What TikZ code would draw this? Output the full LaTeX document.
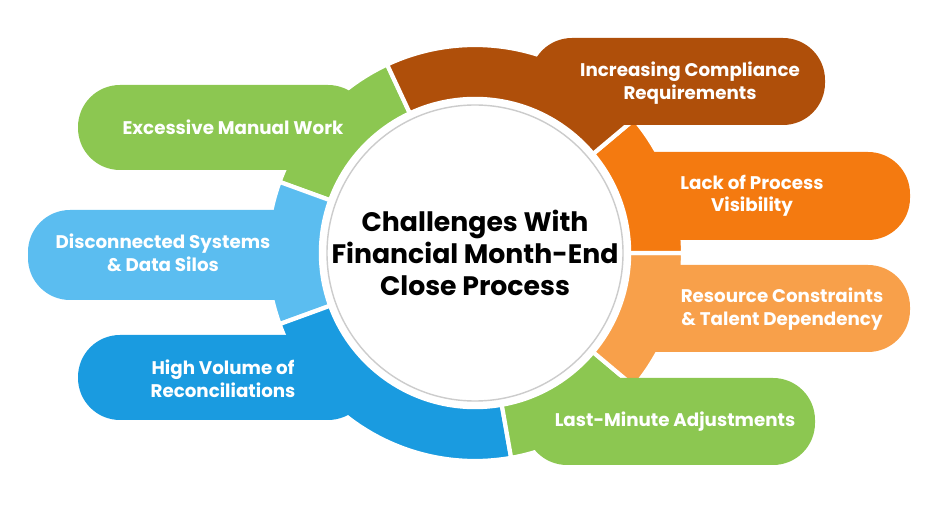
\documentclass[tikz,border=0pt]{standalone}
\usepackage{fontspec}
\setmainfont{Poppins}
\usepackage{tikz}
\usetikzlibrary{calc}
\definecolor{grn}{HTML}{8CC751}
\definecolor{lblu}{HTML}{5BBDF0}
\definecolor{blu}{HTML}{1A9BE0}
\definecolor{brn}{HTML}{AF4F0A}
\definecolor{org}{HTML}{F47A10}
\definecolor{lorg}{HTML}{F8A04A}
\begin{document}
\begin{tikzpicture}[x=0.025cm,y=0.025cm,
  pill/.style={rounded corners=1.05cm},
  seg/.style={draw=white,line width=3pt},
  lbl/.style={text=white,font=\bfseries\fontsize{13}{16}\selectfont,align=center}]
\useasboundingbox (0,0) rectangle (940,506);
\coordinate (hub) at (475,253);
% ring segments
\foreach \a/\b/\c in {115/160/grn,160/200/lblu,200/280/blu,280/320/grn,320/360/lorg,0/40/org,40/115/brn}
  \fill[\c,seg] ($(hub)+(\a:208)$) arc (\a:\b:208) -- ($(hub)+(\b:120)$) arc (\b:\a:120) -- cycle;
% pills
\foreach \c/\x/\y/\X/\Y in {grn/78/336/370/421,lblu/28/206/330/296,blu/78/86/370/171,brn/530/381/825/468,org/580/266/910/354,lorg/580/154/910/241,grn/525/41/815/128}
  \fill[\c,pill] (\x,\y) rectangle (\X,\Y);
% hub
\draw[white,line width=6pt] (hub) circle (152);
\filldraw[fill=white,draw=gray!40,line width=1pt] (hub) circle (148);
\node[font=\bfseries\fontsize{19}{23}\selectfont,align=center] (title) at (hub) {Challenges With\\Financial Month-End\\Close Process};
% labels
\node[lbl] (manual) at (233,379) {Excessive Manual Work};
\node[lbl] (silos) at (163,253) {Disconnected Systems\\\& Data Silos};
\node[lbl] (recon) at (223,127) {High Volume of\\Reconciliations};
\node[lbl] (compl) at (690,423) {Increasing Compliance\\Requirements};
\node[lbl] (visib) at (752,310) {Lack of Process\\Visibility};
\node[lbl] (talent) at (782,197) {Resource Constraints\\\& Talent Dependency};
\node[lbl] (adjust) at (675,84) {Last-Minute Adjustments};
\end{tikzpicture}
\end{document}
